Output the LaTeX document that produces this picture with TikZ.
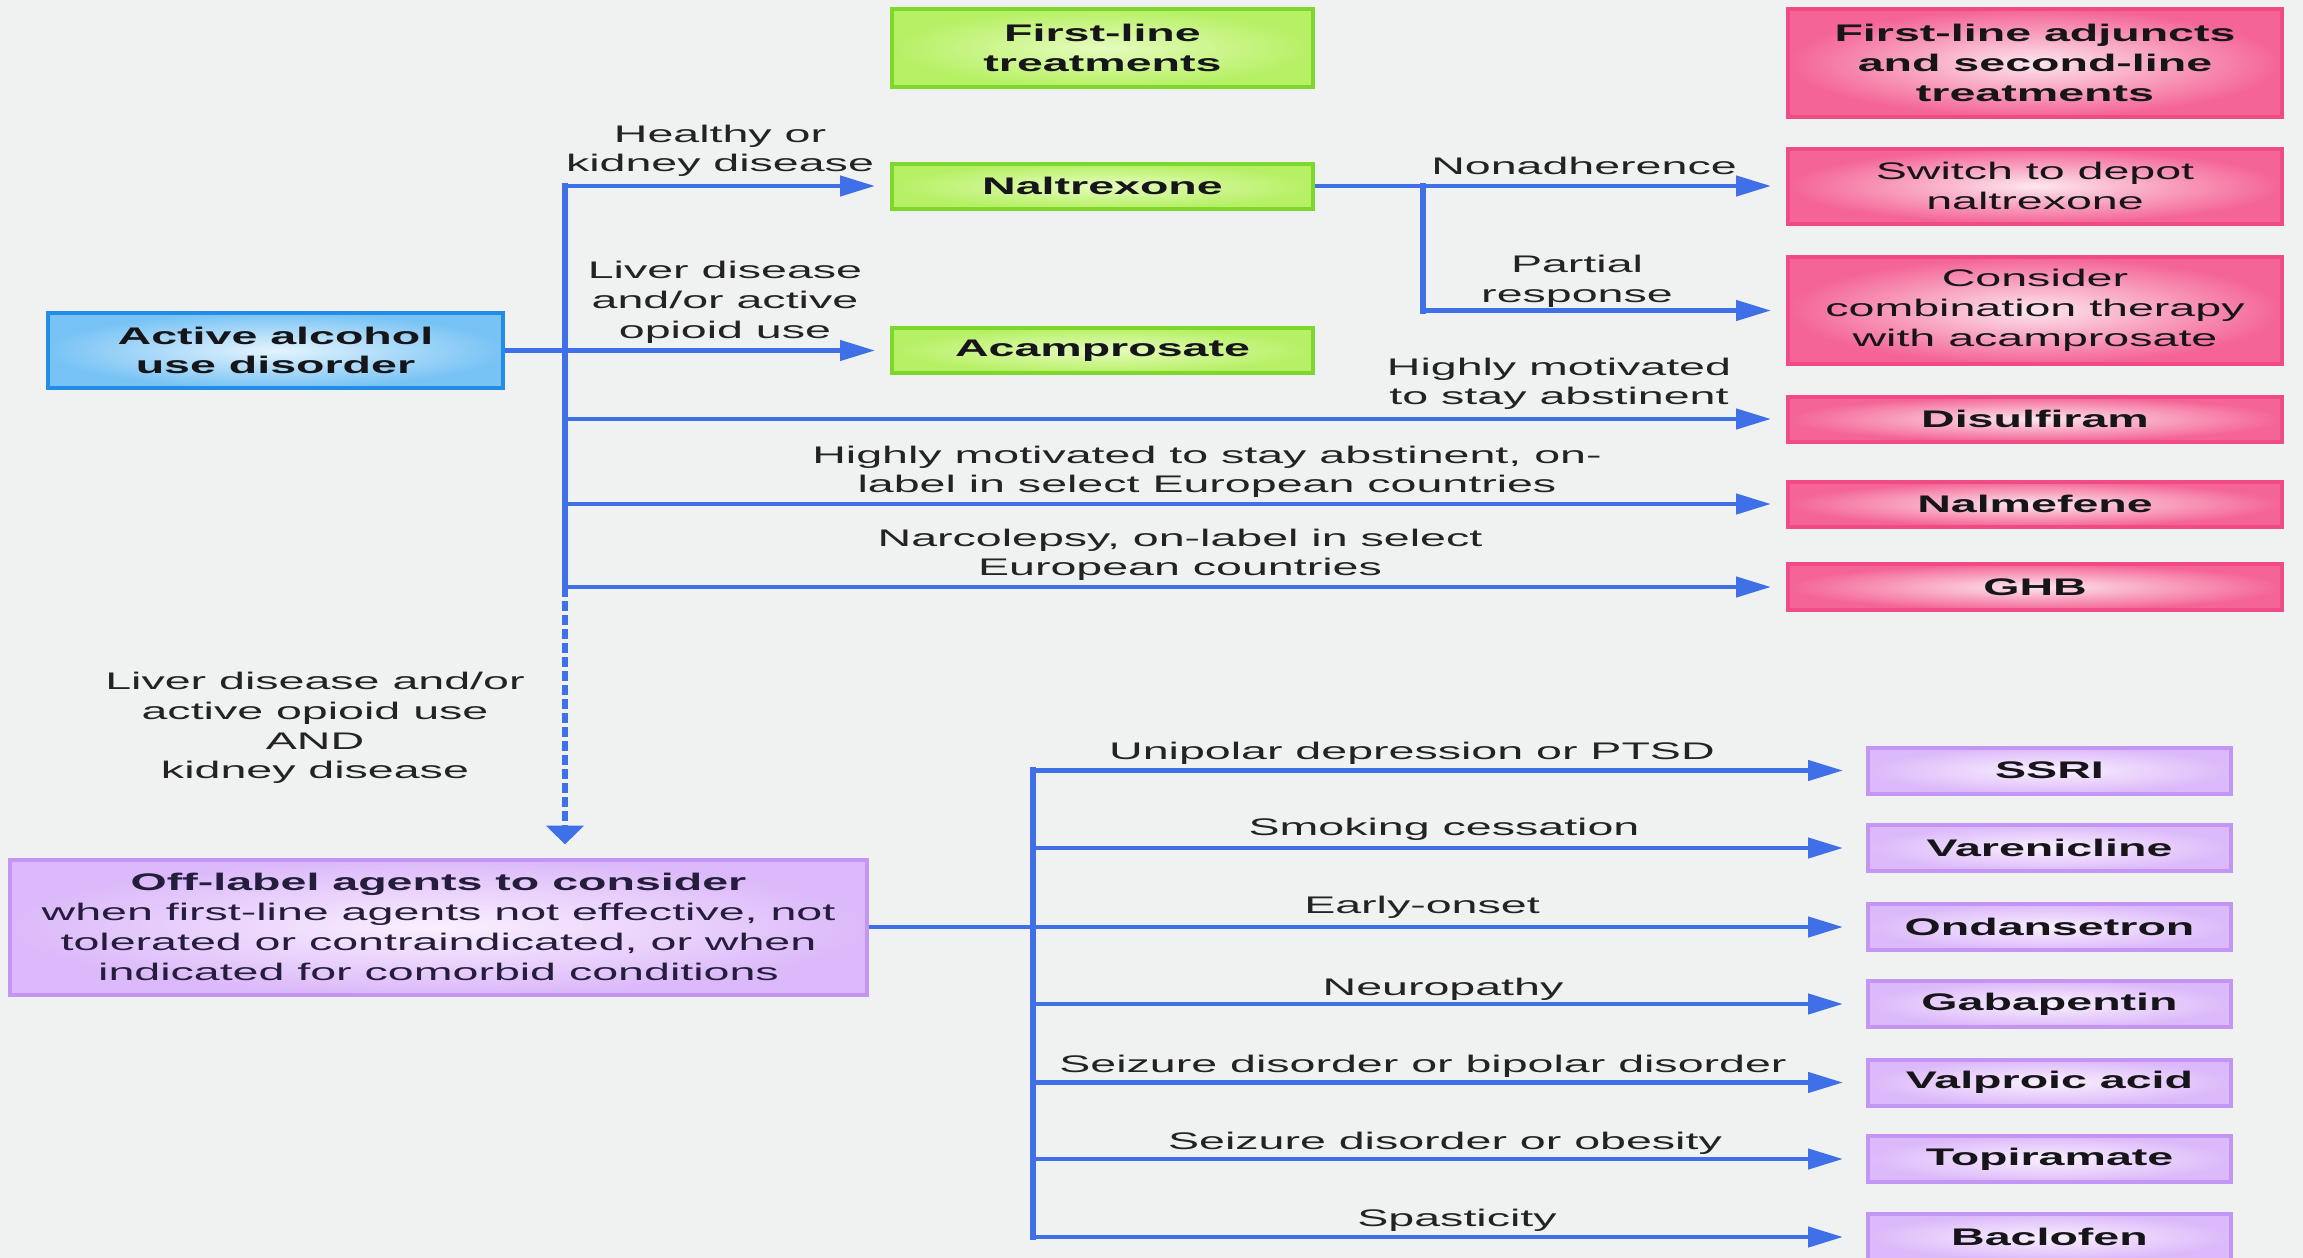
\documentclass[tikz,border=0pt]{standalone}
\usepackage{fontspec}
\setmainfont{Liberation Sans}[FakeStretch=1.94]
\usetikzlibrary{arrows.meta}
\definecolor{bg}{RGB}{240,242,242}
\definecolor{lineblue}{RGB}{64,112,232}
\definecolor{txt}{RGB}{22,22,26}
\definecolor{labtxt}{RGB}{35,35,38}
\definecolor{gborder}{RGB}{125,215,45}
\definecolor{gout}{RGB}{182,240,100}
\definecolor{gin}{RGB}{230,252,190}
\definecolor{pborder}{RGB}{240,75,135}
\definecolor{pout}{RGB}{244,100,150}
\definecolor{pin}{RGB}{253,230,238}
\definecolor{bborder}{RGB}{35,140,230}
\definecolor{bout}{RGB}{120,195,245}
\definecolor{bin}{RGB}{228,244,253}
\definecolor{vborder}{RGB}{195,150,245}
\definecolor{vout}{RGB}{220,185,250}
\definecolor{vin}{RGB}{250,240,254}
\definecolor{offtxt}{RGB}{36,30,60}
\begin{document}
\begin{tikzpicture}[x=1pt,y=-1pt,
  every node/.style={font=\fontsize{24pt}{29.8pt}\selectfont},
  box/.style={rectangle, line width=4pt, inner sep=0pt, align=center, text=txt},
  gbox/.style={box, draw=gborder, inner color=gin, outer color=gout, minimum width=421pt},
  pbox/.style={box, draw=pborder, inner color=pin, outer color=pout, minimum width=494pt},
  bbox/.style={box, draw=bborder, inner color=bin, outer color=bout},
  vbox/.style={box, draw=vborder, inner color=vin, outer color=vout},
  vpbox/.style={vbox, minimum width=363pt, minimum height=46pt, font=\fontsize{24pt}{29.8pt}\selectfont\bfseries},
  lab/.style={anchor=south, inner sep=0pt, align=center, text=labtxt},
  hl/.style={draw=lineblue, line width=4.5pt},
  vl/.style={draw=lineblue, line width=6.5pt, line cap=rect},
  conn/.style={hl, -{Triangle[length=35pt,width=20pt]}, shorten >=15pt},
  conn2/.style={hl, -{Triangle[length=35pt,width=20pt]}, shorten >=23pt},
  dconn/.style={draw=lineblue, line width=5.5pt, dash pattern=on 10pt off 4pt,
    -{Triangle[length=19pt,width=37pt]}, shorten >=13pt}
]
\useasboundingbox[fill=bg] (0,0) rectangle (2303,1258);

% top row / first-line
\node[gbox, minimum height=78pt, font=\fontsize{24pt}{29.8pt}\selectfont\bfseries] (flt) at (1102.5,48) {First-line\\treatments};
\node[pbox, minimum height=108pt, font=\fontsize{24pt}{29.8pt}\selectfont\bfseries] (adj) at (2035,63) {First-line adjuncts\\and second-line\\treatments};
\node[gbox, minimum height=45pt, font=\fontsize{24pt}{29.8pt}\selectfont\bfseries] (nal) at (1102.5,186) {Naltrexone};
\node[gbox, minimum height=45pt, font=\fontsize{24pt}{29.8pt}\selectfont\bfseries] (acam) at (1102.5,350.5) {Acamprosate};
\node[bbox, minimum width=455pt, minimum height=75pt, font=\fontsize{24pt}{29.8pt}\selectfont\bfseries] (act) at (275.5,350.5) {Active alcohol\\use disorder};
\node[pbox, minimum height=75pt] (sw) at (2035,186) {Switch to depot\\naltrexone};
\node[pbox, minimum height=107pt] (comb) at (2035,310.5) {Consider\\combination therapy\\with acamprosate};
\node[pbox, minimum height=45pt, font=\fontsize{24pt}{29.8pt}\selectfont\bfseries] (dis) at (2035,419) {Disulfiram};
\node[pbox, minimum height=45pt, font=\fontsize{24pt}{29.8pt}\selectfont\bfseries] (nalm) at (2035,504) {Nalmefene};
\node[pbox, minimum height=46pt, font=\fontsize{24pt}{29.8pt}\selectfont\bfseries] (ghb) at (2035,587) {GHB};

% off-label
\node[vbox, minimum width=857pt, minimum height=135pt, text=offtxt] (off) at (438.5,927) {\textbf{Off-label agents to consider}\\when first-line agents not effective, not\\tolerated or contraindicated, or when\\indicated for comorbid conditions};
\node[vpbox] (ssri) at (2049.5,770.5) {SSRI};
\node[vpbox] (var) at (2049.5,848) {Varenicline};
\node[vpbox] (ond) at (2049.5,927) {Ondansetron};
\node[vpbox] (gab) at (2049.5,1004) {Gabapentin};
\node[vpbox] (val) at (2049.5,1082.5) {Valproic acid};
\node[vpbox] (top) at (2049.5,1159) {Topiramate};
\node[vpbox] (bac) at (2049.5,1237) {Baclofen};

% trunk coordinates
\coordinate (ut) at (565,0);
\coordinate (br) at (1423,0);
\coordinate (lt) at (1033,0);

% upper trunk
\draw[vl] (ut |- nal) -- (ut |- ghb);
\draw[conn] (ut |- nal) -- (nal.west);
\draw[conn] (act.east) -- (acam.west);
\draw[conn] (ut |- dis) -- (dis.west);
\draw[conn] (ut |- nalm) -- (nalm.west);
\draw[conn] (ut |- ghb) -- (ghb.west);
\draw[dconn] (ut |- ghb) -- (ut |- off.north);

% naltrexone branch
\draw[conn] (nal.east) -- (sw.west);
\draw[vl] (br |- nal) -- (br |- comb);
\draw[conn] (br |- comb) -- (comb.west);

% lower trunk
\draw[vl] (lt |- ssri) -- (lt |- bac);
\draw[conn2] (off.east) -- (ond.west);
\draw[conn2] (lt |- ssri) -- (ssri.west);
\draw[conn2] (lt |- var) -- (var.west);
\draw[conn2] (lt |- gab) -- (gab.west);
\draw[conn2] (lt |- val) -- (val.west);
\draw[conn2] (lt |- top) -- (top.west);
\draw[conn2] (lt |- bac) -- (bac.west);

% labels
\node[lab] (l1) at (720,177) {Healthy or\\kidney disease\vphantom{g}};
\node[lab] (l2) at (725,343.5) {Liver disease\\and/or active\\opioid use\vphantom{g}};
\node[lab] (l3) at (1584,180) {Nonadherence\vphantom{g}};
\node[lab] (l4) at (1577,307.5) {Partial\\response\vphantom{g}};
\node[lab] (l5) at (1559,410) {Highly motivated\\to stay abstinent\vphantom{g}};
\node[lab] (l6) at (1207,498) {Highly motivated to stay abstinent, on-\\label in select European countries\vphantom{g}};
\node[lab] (l7) at (1180,581) {Narcolepsy, on-label in select\\European countries\vphantom{g}};
\node[lab] (l8) at (315,784) {Liver disease and/or\\active opioid use\\AND\\kidney disease\vphantom{g}};
\node[lab] (l9) at (1412,764.5) {Unipolar depression or PTSD\vphantom{g}};
\node[lab] (l10) at (1444,841) {Smoking cessation\vphantom{g}};
\node[lab] (l11) at (1422,919) {Early-onset\vphantom{g}};
\node[lab] (l12) at (1443,1000.5) {Neuropathy\vphantom{g}};
\node[lab] (l13) at (1423,1077.5) {Seizure disorder or bipolar disorder\vphantom{g}};
\node[lab] (l14) at (1445,1155) {Seizure disorder or obesity\vphantom{g}};
\node[lab] (l15) at (1457,1232) {Spasticity\vphantom{g}};
\end{tikzpicture}
\end{document}
